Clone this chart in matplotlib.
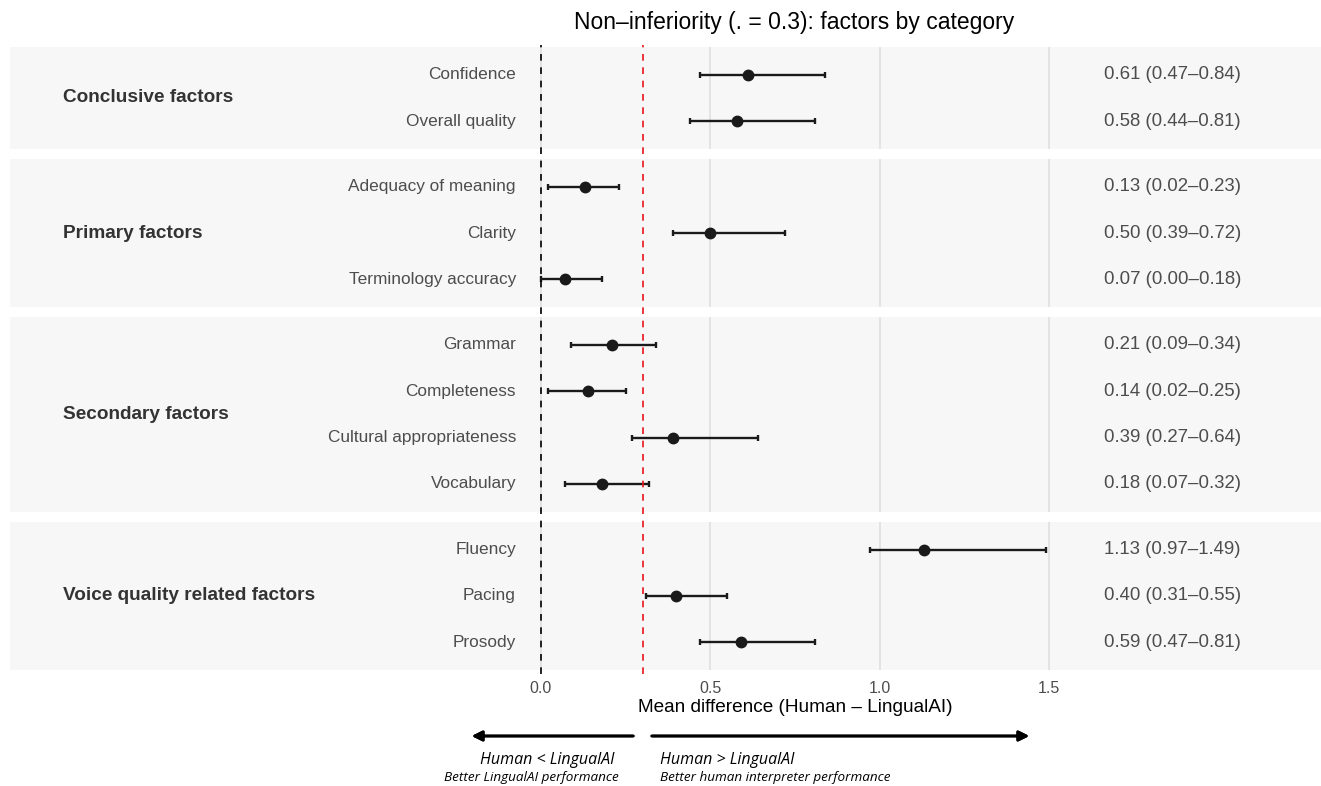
import matplotlib.pyplot as plt
from matplotlib.transforms import blended_transform_factory

group_names = ["Conclusive factors", "Primary factors", "Secondary factors",
               "Voice quality related factors"]
factors = ["Confidence", "Overall quality",
           "Adequacy of meaning", "Clarity", "Terminology accuracy",
           "Grammar", "Completeness", "Cultural appropriateness", "Vocabulary",
           "Fluency", "Pacing", "Prosody"]
factor_group = [0, 0, 1, 1, 1, 2, 2, 2, 2, 3, 3, 3]
means = [0.61, 0.58, 0.13, 0.50, 0.07, 0.21, 0.14, 0.39, 0.18, 1.13, 0.40, 0.59]
ci_low = [0.47, 0.44, 0.02, 0.39, 0.00, 0.09, 0.02, 0.27, 0.07, 0.97, 0.31, 0.47]
ci_high = [0.84, 0.81, 0.23, 0.72, 0.18, 0.34, 0.25, 0.64, 0.32, 1.49, 0.55, 0.81]
x_ticks = [0.0, 0.5, 1.0, 1.5]
margin = 0.3

W, H = 1321, 786


def fx(px):
    return px / W


def fy(py):
    return 1 - py / H


# pixel mapping of the data axis: 0 -> 541, 1.5 -> 1049
px_per_unit = (1049 - 541) / 1.5
xlim = ((10 - 541) / px_per_unit, (1321 - 541) / px_per_unit)

plt.rcParams['font.family'] = ['Liberation Sans', 'DejaVu Sans']

fig = plt.figure(figsize=(W / 100, H / 100), dpi=100)

sizes = [factor_group.count(g) for g in range(len(group_names))]
ratios = [n - 1 + 1.2 for n in sizes]
panel_px = (670 - 47 - 30) / 4
gs = fig.add_gridspec(len(group_names), 1, left=fx(10), right=1.0, top=fy(47),
                      bottom=fy(670), height_ratios=ratios, hspace=10 / panel_px)

for g, name in enumerate(group_names):
    ax = fig.add_subplot(gs[g])
    idx = [i for i, fg in enumerate(factor_group) if fg == g]
    ys = list(range(len(idx)))
    ax.set_facecolor('#f7f7f7')
    for s in ax.spines.values():
        s.set_visible(False)
    ax.set_xlim(*xlim)
    ax.set_ylim(len(idx) - 1 + 0.6, -0.6)
    for t in x_ticks:
        ax.axvline(t, color='#e3e3e3', lw=1.4, zorder=0)
    m = [means[i] for i in idx]
    lo = [means[i] - ci_low[i] for i in idx]
    hi = [ci_high[i] - means[i] for i in idx]
    ax.errorbar(m, ys, xerr=[lo, hi], fmt='o', color='#1a1a1a', ms=7.5,
                elinewidth=1.7, capsize=2.2, capthick=1.7, zorder=3)
    tr = blended_transform_factory(ax.transAxes, ax.transData)
    for y, i in zip(ys, idx):
        ax.text((516 - 10) / 1311, y, factors[i], transform=tr, ha='right',
                va='center', fontsize=12.4, color='#4d4d4d')
        ax.text((1104 - 10) / 1311, y,
                f"{means[i]:.2f} ({ci_low[i]:.2f}\u2013{ci_high[i]:.2f})",
                transform=tr, ha='left', va='center', fontsize=13.4, color='#4d4d4d')
    ax.text(53 / 1311, 0.5, name, transform=ax.transAxes, ha='left', va='center',
            fontsize=13.7, fontweight='bold', color='#333333')
    ax.set_yticks([])
    ax.tick_params(length=0)
    if g < len(group_names) - 1:
        ax.set_xticks([])
    else:
        ax.set_xticks(x_ticks)
        ax.set_xticklabels([f"{t:.1f}" for t in x_ticks])
        ax.tick_params(axis='x', pad=8, labelsize=11.5, labelcolor='#4d4d4d')

# reference lines spanning all panels
ov = fig.add_axes([fx(10), fy(674), 1 - fx(10), (674 - 45) / H])
ov.set_xlim(*xlim)
ov.set_ylim(0, 1)
ov.axis('off')
ov.patch.set_visible(False)
ov.axvline(0, color='black', lw=1.2, linestyle=(0, (4, 4)))
ov.axvline(margin, color='#e8141c', lw=1.2, linestyle=(0, (4, 4)))

fig.text(fx(794), fy(22), "Non\u2013inferiority (. = 0.3): factors by category",
         ha='center', va='center', fontsize=16.5)
fig.text(fx(795), fy(708), "Mean difference (Human \u2013 LingualAI)",
         ha='center', va='center', fontsize=13.7)

# direction arrows
fig.add_artist(plt.annotate('', xy=(fx(469), fy(736)), xytext=(fx(636), fy(736)),
                            xycoords='figure fraction',
                            arrowprops=dict(arrowstyle='-|>', color='black', lw=2,
                                            mutation_scale=15)))
fig.add_artist(plt.annotate('', xy=(fx(1032), fy(736)), xytext=(fx(649), fy(736)),
                            xycoords='figure fraction',
                            arrowprops=dict(arrowstyle='-|>', color='black', lw=2,
                                            mutation_scale=15)))
ital = ['Open Sans', 'DejaVu Sans']
fig.text(fx(614), fy(760), "Human < LingualAI", ha='right', va='center',
         fontsize=11.5, style='italic', family=ital)
fig.text(fx(619), fy(778), "Better LingualAI performance", ha='right', va='center',
         fontsize=9.7, style='italic', family=ital)
fig.text(fx(660), fy(760), "Human > LingualAI", ha='left', va='center',
         fontsize=11.5, style='italic', family=ital)
fig.text(fx(660), fy(778), "Better human interpreter performance", ha='left',
         va='center', fontsize=9.7, style='italic', family=ital)

fig.savefig('out.png', dpi=100)
